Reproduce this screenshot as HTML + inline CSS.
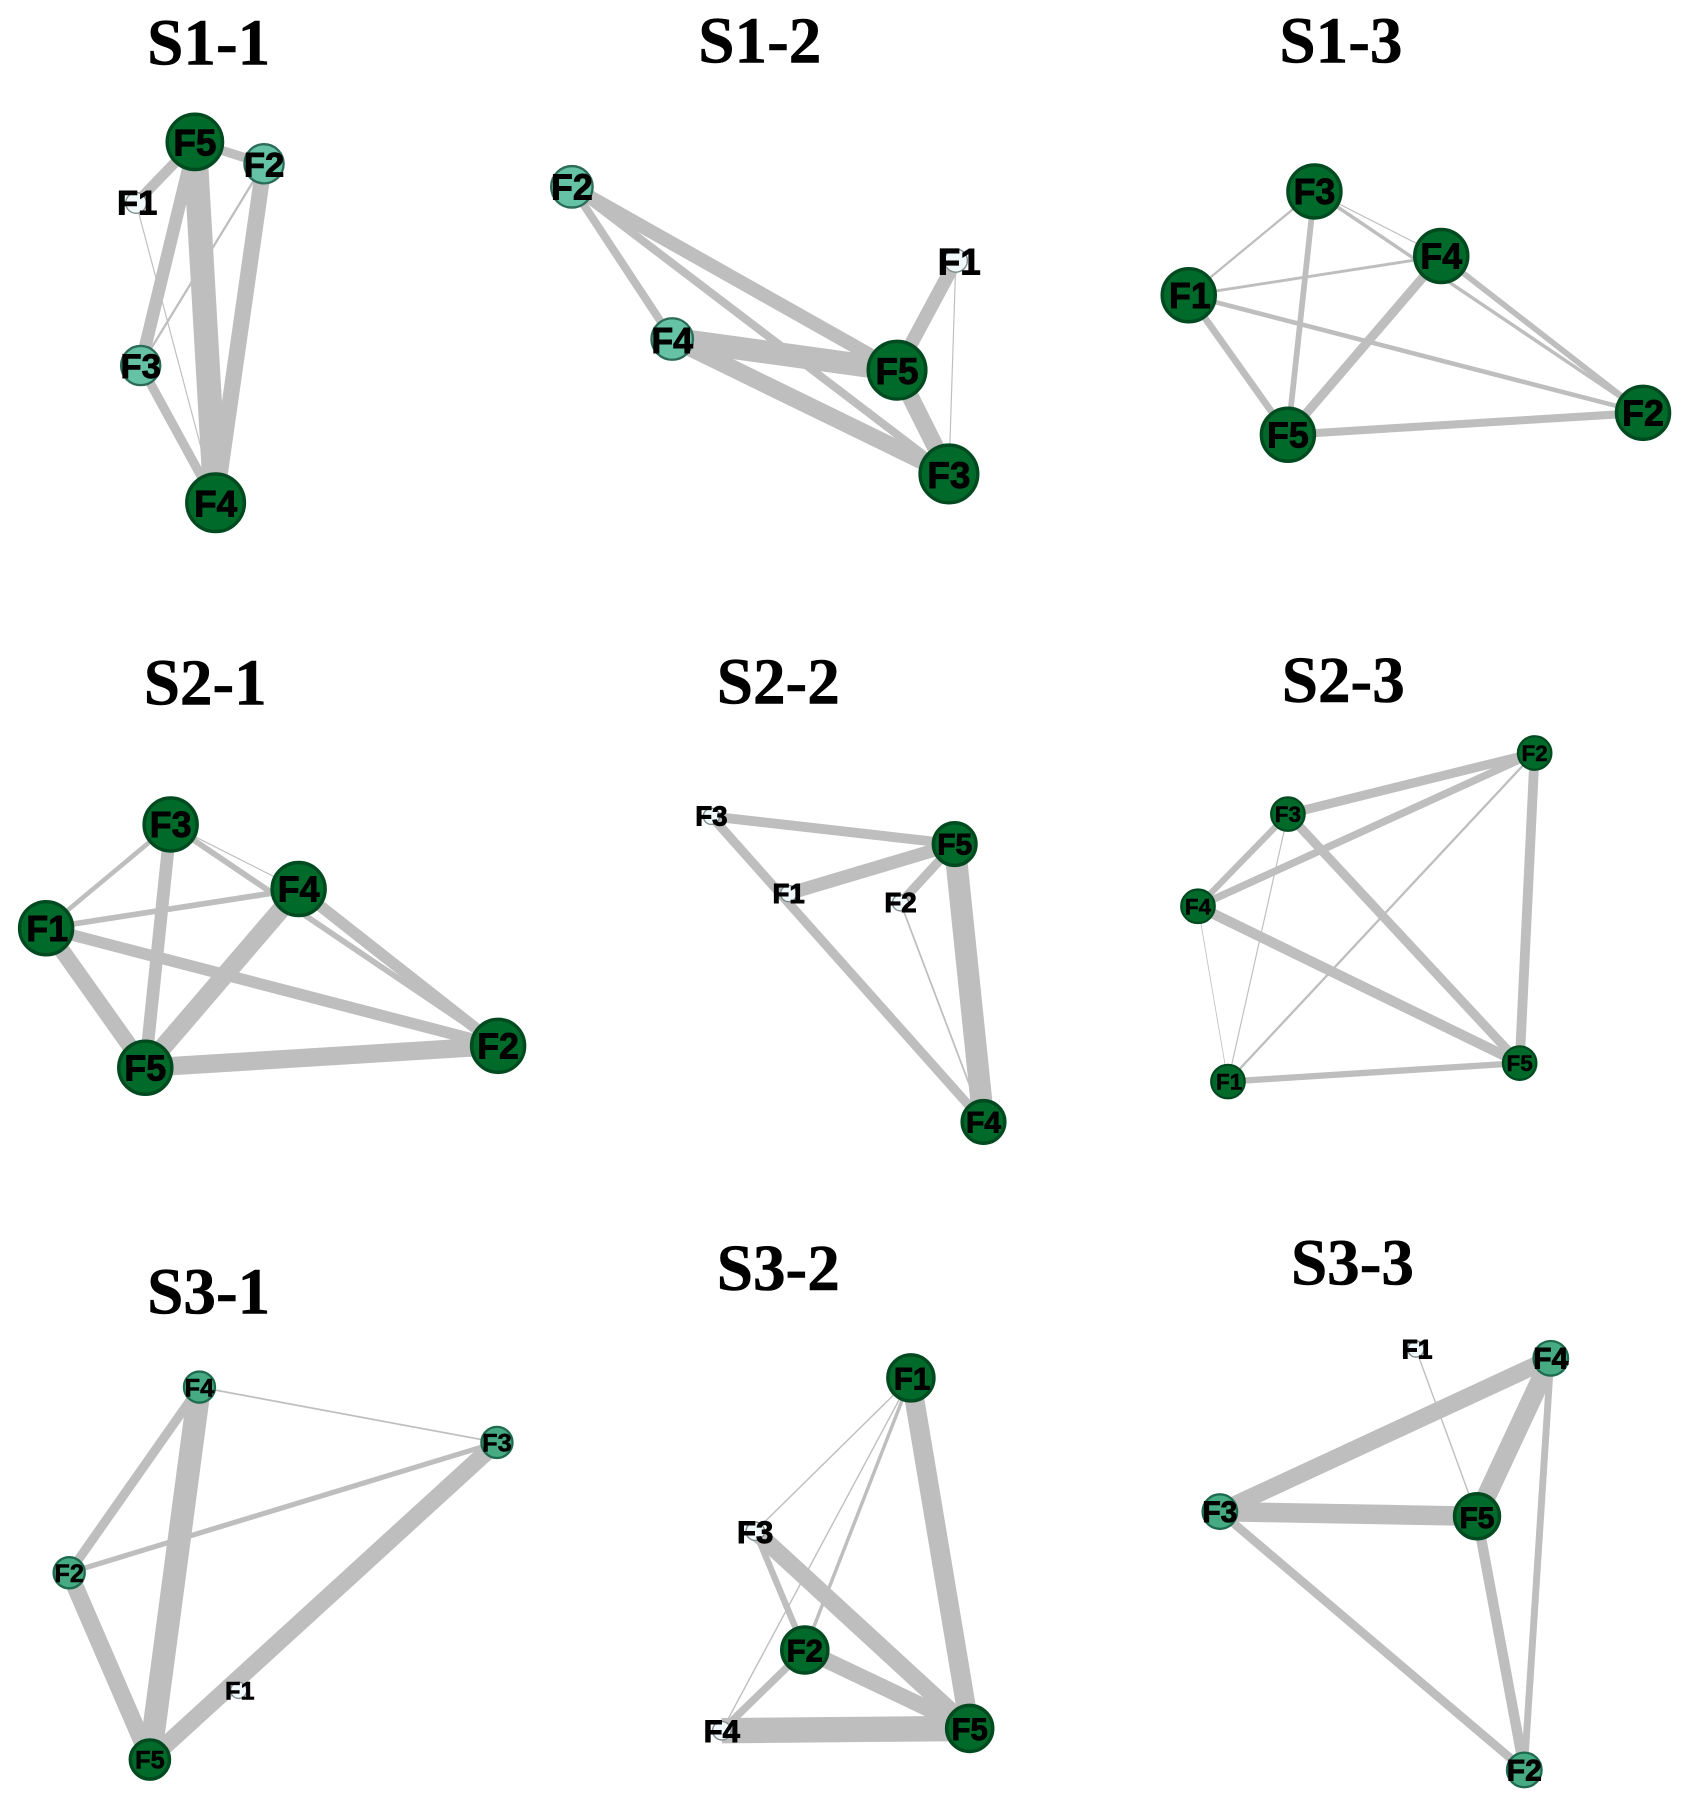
<!DOCTYPE html>
<html><head><meta charset="utf-8"><style>
html,body{margin:0;padding:0;background:#fff}
svg{display:block;filter:blur(.35px)}
line{stroke:#bebebe}
.d{fill:#006a2b;stroke:#004a20;stroke-width:3}
.l{fill:#66c2a4;stroke:#2b6b58;stroke-width:2}
.m{fill:#46aa82;stroke:#1f6b50;stroke-width:2}
.p{fill:#eff8fb;stroke:#7f8c8c;stroke-width:1.2}
.t{font:bold 56.5px "Liberation Serif",serif;text-anchor:middle;fill:#000;stroke:#000;stroke-width:.5}
.n{font-family:"Liberation Sans",sans-serif;font-weight:bold;text-anchor:middle;fill:#000;stroke:#000;stroke-width:.8}
</style></head><body>
<svg width="1688" height="1808" viewBox="0 0 1464 1568" xmlns="http://www.w3.org/2000/svg">
<rect width="1464" height="1568" fill="#fff"/>
<text class="t" x="181" y="56">S1-1</text><text class="t" x="659" y="54">S1-2</text><text class="t" x="1163" y="54">S1-3</text>
<text class="t" x="178" y="611">S2-1</text><text class="t" x="675" y="610">S2-2</text><text class="t" x="1165" y="609">S2-3</text>
<text class="t" x="181" y="1139">S3-1</text><text class="t" x="675" y="1119">S3-2</text><text class="t" x="1173" y="1114">S3-3</text>

<!-- S1-1 -->
<line x1="169" y1="123" x2="229" y2="142" stroke-width="8"/><line x1="169" y1="123" x2="118" y2="176" stroke-width="9"/><line x1="169" y1="123" x2="122" y2="317" stroke-width="11"/><line x1="169" y1="123" x2="187" y2="436" stroke-width="21"/><line x1="229" y1="142" x2="187" y2="436" stroke-width="14"/><line x1="229" y1="142" x2="122" y2="317" stroke-width="2"/><line x1="118" y1="176" x2="187" y2="436" stroke-width="1"/><line x1="122" y1="317" x2="187" y2="436" stroke-width="8"/>
<circle class="d" cx="169" cy="123" r="24"/><circle class="l" cx="229" cy="142" r="17"/><circle class="p" cx="118" cy="176" r="9"/><circle class="l" cx="122" cy="317" r="17"/><circle class="d" cx="187" cy="436" r="25"/>
<g class="n" font-size="32"><text x="169" y="135">F5</text><text x="187" y="448">F4</text></g>
<g class="n" font-size="30"><text x="229" y="153">F2</text><text x="122" y="328">F3</text><text x="119" y="186">F1</text></g>

<!-- S1-2 -->
<line x1="496" y1="162" x2="583" y2="294" stroke-width="7"/><line x1="496" y1="162" x2="778" y2="321" stroke-width="12"/><line x1="496" y1="162" x2="823" y2="411" stroke-width="7"/><line x1="583" y1="294" x2="778" y2="321" stroke-width="20"/><line x1="583" y1="294" x2="823" y2="411" stroke-width="15"/><line x1="778" y1="321" x2="829" y2="226" stroke-width="12"/><line x1="778" y1="321" x2="823" y2="411" stroke-width="15"/><line x1="829" y1="226" x2="823" y2="411" stroke-width="1"/>
<circle class="l" cx="496" cy="162" r="18"/><circle class="l" cx="583" cy="294" r="18"/><circle class="p" cx="829" cy="226" r="10"/><circle class="d" cx="778" cy="321" r="25"/><circle class="d" cx="823" cy="411" r="25"/>
<g class="n" font-size="32"><text x="778" y="333">F5</text><text x="823" y="423">F3</text><text x="832" y="238">F1</text></g>
<g class="n" font-size="31"><text x="496" y="173">F2</text><text x="583" y="306">F4</text></g>

<!-- S1-3 -->
<line x1="1140" y1="166" x2="1031" y2="256" stroke-width="2"/><line x1="1140" y1="166" x2="1117" y2="377" stroke-width="5"/><line x1="1140" y1="166" x2="1425" y2="358" stroke-width="3"/><line x1="1140" y1="166" x2="1250" y2="222" stroke-width="1"/><line x1="1031" y1="256" x2="1250" y2="222" stroke-width="2.5"/><line x1="1031" y1="256" x2="1425" y2="358" stroke-width="4"/><line x1="1031" y1="256" x2="1117" y2="377" stroke-width="6"/><line x1="1250" y1="222" x2="1117" y2="377" stroke-width="8"/><line x1="1250" y1="222" x2="1425" y2="358" stroke-width="5"/><line x1="1117" y1="377" x2="1425" y2="358" stroke-width="7"/>
<circle class="d" cx="1140" cy="166" r="23"/><circle class="d" cx="1250" cy="222" r="23"/><circle class="d" cx="1031" cy="256" r="23"/><circle class="d" cx="1117" cy="377" r="23"/><circle class="d" cx="1425" cy="358" r="23"/>
<g class="n" font-size="31"><text x="1140" y="177">F3</text><text x="1250" y="233">F4</text><text x="1032" y="267">F1</text><text x="1117" y="388">F5</text><text x="1425" y="369">F2</text></g>

<!-- S2-1 -->
<line x1="148" y1="715" x2="40" y2="805" stroke-width="4"/><line x1="148" y1="715" x2="126" y2="926" stroke-width="11"/><line x1="148" y1="715" x2="432" y2="907" stroke-width="5"/><line x1="148" y1="715" x2="259" y2="771" stroke-width="1"/><line x1="40" y1="805" x2="259" y2="771" stroke-width="5"/><line x1="40" y1="805" x2="432" y2="907" stroke-width="10"/><line x1="40" y1="805" x2="126" y2="926" stroke-width="14"/><line x1="259" y1="771" x2="126" y2="926" stroke-width="16"/><line x1="259" y1="771" x2="432" y2="907" stroke-width="10"/><line x1="126" y1="926" x2="432" y2="907" stroke-width="16"/>
<circle class="d" cx="148" cy="715" r="23"/><circle class="d" cx="259" cy="771" r="23"/><circle class="d" cx="40" cy="805" r="23"/><circle class="d" cx="126" cy="926" r="23"/><circle class="d" cx="432" cy="907" r="23"/>
<g class="n" font-size="31"><text x="148" y="726">F3</text><text x="259" y="782">F4</text><text x="41" y="816">F1</text><text x="126" y="937">F5</text><text x="432" y="918">F2</text></g>

<!-- S2-2 -->
<line x1="617" y1="708" x2="828" y2="732" stroke-width="8.5"/><line x1="617" y1="708" x2="853" y2="973" stroke-width="8"/><line x1="684" y1="775" x2="828" y2="732" stroke-width="11.5"/><line x1="781" y1="783" x2="828" y2="732" stroke-width="8"/><line x1="828" y1="732" x2="853" y2="973" stroke-width="19"/><line x1="781" y1="783" x2="853" y2="973" stroke-width="1.5"/>
<circle class="p" cx="617" cy="708" r="7"/><circle class="p" cx="684" cy="775" r="7"/><circle class="p" cx="781" cy="783" r="7"/><circle class="d" cx="828" cy="732" r="18.5"/><circle class="d" cx="853" cy="973" r="18.5"/>
<g class="n" font-size="24"><text x="617" y="716">F3</text><text x="684" y="783">F1</text><text x="781" y="791">F2</text></g>
<g class="n" font-size="26"><text x="828" y="741">F5</text><text x="853" y="982">F4</text></g>

<!-- S2-3 -->
<line x1="1117" y1="706" x2="1331" y2="653" stroke-width="8"/><line x1="1039" y1="786" x2="1331" y2="653" stroke-width="6.5"/><line x1="1117" y1="706" x2="1039" y2="786" stroke-width="5.5"/><line x1="1117" y1="706" x2="1318" y2="922" stroke-width="8"/><line x1="1039" y1="786" x2="1318" y2="922" stroke-width="9"/><line x1="1065" y1="938" x2="1318" y2="922" stroke-width="5.5"/><line x1="1331" y1="653" x2="1318" y2="922" stroke-width="8.5"/><line x1="1065" y1="938" x2="1331" y2="653" stroke-width="2"/><line x1="1117" y1="706" x2="1065" y2="938" stroke-width="1"/><line x1="1039" y1="786" x2="1065" y2="938" stroke-width=".7"/>
<circle class="d" cx="1331" cy="653" r="14.5" style="stroke-width:2"/><circle class="d" cx="1117" cy="706" r="14.5" style="stroke-width:2"/><circle class="d" cx="1039" cy="786" r="14.5" style="stroke-width:2"/><circle class="d" cx="1065" cy="938" r="14.5" style="stroke-width:2"/><circle class="d" cx="1318" cy="922" r="14.5" style="stroke-width:2"/>
<g class="n" font-size="19.5" style="stroke-width:.4"><text x="1331" y="660">F2</text><text x="1117" y="713">F3</text><text x="1039" y="793">F4</text><text x="1066" y="945">F1</text><text x="1318" y="929">F5</text></g>

<!-- S3-1 -->
<line x1="173" y1="1203" x2="431" y2="1251" stroke-width="1.5"/><line x1="60" y1="1364" x2="431" y2="1251" stroke-width="4.5"/><line x1="173" y1="1203" x2="60" y2="1364" stroke-width="8"/><line x1="173" y1="1203" x2="130" y2="1526" stroke-width="20"/><line x1="60" y1="1364" x2="130" y2="1526" stroke-width="15"/><line x1="431" y1="1251" x2="130" y2="1526" stroke-width="15"/>
<circle class="m" cx="173" cy="1203" r="13.5"/><circle class="m" cx="431" cy="1251" r="13.5"/><circle class="m" cx="60" cy="1364" r="13.5"/><circle class="d" cx="130" cy="1526" r="17"/><circle class="p" cx="207" cy="1466" r="7"/>
<g class="n" font-size="22" style="stroke-width:.5"><text x="173" y="1211">F4</text><text x="431" y="1259">F3</text><text x="60" y="1372">F2</text><text x="130" y="1534">F5</text><text x="208" y="1474">F1</text></g>

<!-- S3-2 -->
<line x1="790" y1="1195" x2="841" y2="1499" stroke-width="17"/><line x1="790" y1="1195" x2="655" y2="1328" stroke-width="1.2"/><line x1="790" y1="1195" x2="698" y2="1431" stroke-width="3"/><line x1="790" y1="1195" x2="626" y2="1501" stroke-width="1.2"/><line x1="655" y1="1328" x2="698" y2="1431" stroke-width="5.5"/><line x1="655" y1="1328" x2="841" y2="1499" stroke-width="15"/><line x1="698" y1="1431" x2="841" y2="1499" stroke-width="14"/><line x1="698" y1="1431" x2="626" y2="1501" stroke-width="6.5"/><line x1="626" y1="1501" x2="841" y2="1499" stroke-width="22"/>
<circle class="d" cx="790" cy="1195" r="20"/><circle class="p" cx="655" cy="1328" r="8"/><circle class="d" cx="698" cy="1431" r="20"/><circle class="p" cx="626" cy="1501" r="8"/><circle class="d" cx="841" cy="1499" r="20"/>
<g class="n" font-size="27"><text x="791" y="1205">F1</text><text x="655" y="1338">F3</text><text x="698" y="1441">F2</text><text x="626" y="1511">F4</text><text x="841" y="1509">F5</text></g>

<!-- S3-3 -->
<line x1="1228" y1="1170" x2="1281" y2="1315" stroke-width="1.2"/><line x1="1345" y1="1178" x2="1058" y2="1311" stroke-width="15"/><line x1="1058" y1="1311" x2="1281" y2="1315" stroke-width="17"/><line x1="1345" y1="1178" x2="1281" y2="1315" stroke-width="17"/><line x1="1345" y1="1178" x2="1322" y2="1535" stroke-width="6"/><line x1="1281" y1="1315" x2="1322" y2="1535" stroke-width="9"/><line x1="1058" y1="1311" x2="1322" y2="1535" stroke-width="7.5"/>
<circle class="p" cx="1228" cy="1170" r="7"/><circle class="m" cx="1345" cy="1178" r="15"/><circle class="d" cx="1281" cy="1315" r="19.5"/><circle class="m" cx="1058" cy="1311" r="15"/><circle class="m" cx="1322" cy="1535" r="15"/>
<text class="n" font-size="23" x="1229" y="1178">F1</text>
<g class="n" font-size="26"><text x="1345" y="1187">F4</text><text x="1281" y="1325">F5</text><text x="1058" y="1320">F3</text><text x="1322" y="1544">F2</text></g>
</svg>
</body></html>
